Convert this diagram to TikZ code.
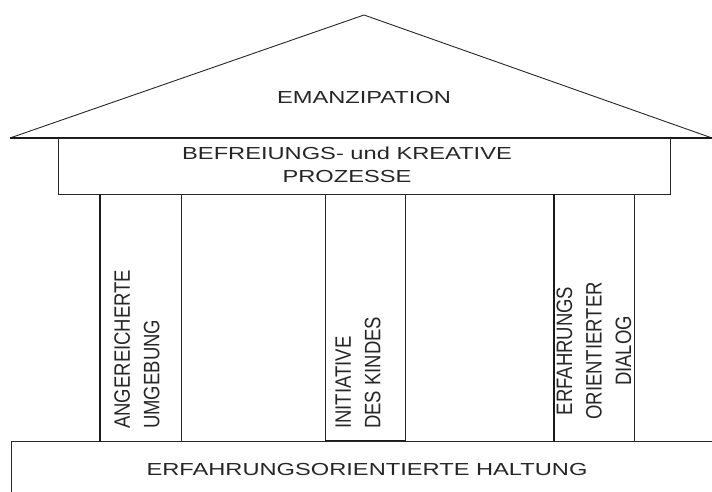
\documentclass[tikz,border=0pt]{standalone}
\usepackage{fontspec}
\setmainfont{Liberation Sans}
\newfontfamily\widefont[FakeStretch=1.36]{Liberation Sans}
\newfontfamily\narrowfont[FakeStretch=0.83]{Liberation Sans}
\begin{document}
\begin{tikzpicture}[x=1pt,y=1pt,
  part/.style={draw=black!85, line width=0.9pt},
  heavy/.style={draw=black!90, line width=1.4pt},
  htext/.style={font=\widefont\fontsize{17.4}{23}\selectfont, text=black!85, inner sep=0pt, align=center},
  vtext/.style={font=\narrowfont\fontsize{22.3}{29.5}\selectfont, text=black!85, inner sep=0pt, rotate=90}]
\useasboundingbox (0,0) rectangle (712,492);
% roof
\coordinate (roofL) at (10,354);
\coordinate (roofT) at (364,477);
\coordinate (roofR) at (712,354);
\draw[part] (roofL) -- (roofT) -- (roofR);
\draw[heavy] (roofL) -- (roofR);
% entablature
\draw[part] (58,354) rectangle (670,298);
% columns
\draw[part] (100,298) rectangle (181,51);
\draw[heavy] (100,298) -- (100,51);
\draw[part] (325,298) rectangle (405,51);
\draw[heavy] (325,51) -- (405,51);
\draw[part] (554,298) rectangle (634,51);
\draw[heavy] (554,298) -- (554,51);
% base
\coordinate (baseBL) at (11,0);
\coordinate (baseTL) at (11,51);
\coordinate (baseTR) at (712,51);
\draw[part] (baseBL) -- (baseTL) -- (baseTR);
% texts
\node[htext] (emanz) at (364,394) {EMANZIPATION};
\node[htext] (befr) at (347,327) {BEFREIUNGS- und KREATIVE\\PROZESSE};
\node[htext] (haltung) at (367,22.3) {ERFAHRUNGSORIENTIERTE HALTUNG};
\node[vtext, anchor=west, align=left] (umg) at (137,63) {ANGEREICHERTE\\UMGEBUNG};
\node[vtext, anchor=west, align=left] (init) at (358,63) {INITIATIVE\\DES KINDES};
\node[vtext, align=center] (dialog) at (594,141) {ERFAHRUNGS\\ORIENTIERTER\\DIALOG};
\end{tikzpicture}
\end{document}
